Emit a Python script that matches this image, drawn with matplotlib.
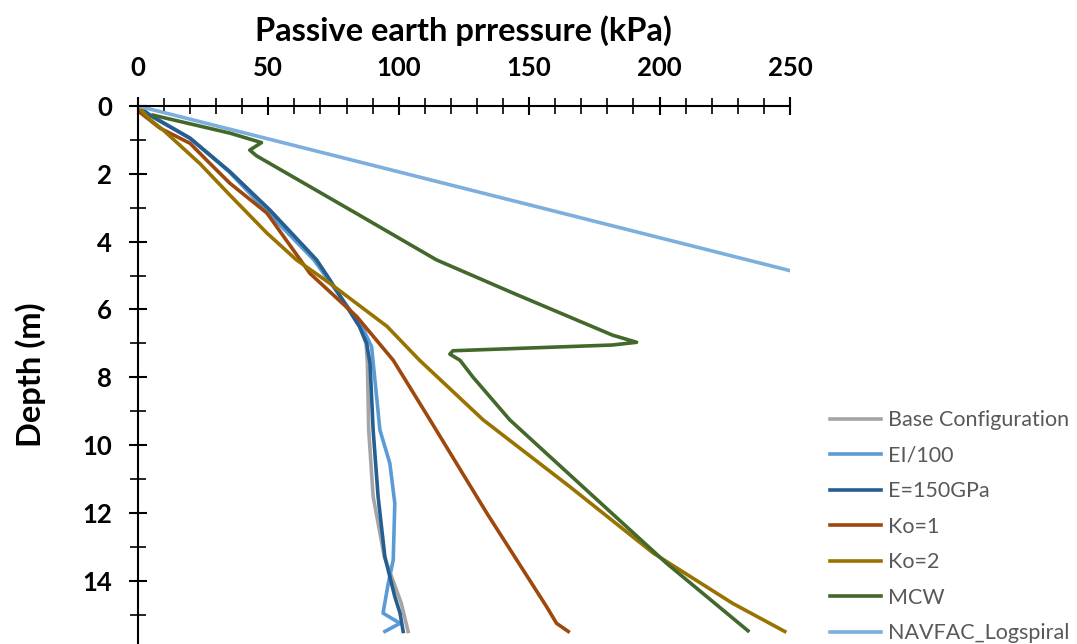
import matplotlib.pyplot as plt
from matplotlib.ticker import MultipleLocator

plt.rcParams['font.family'] = ['Lato', 'DejaVu Sans']

# Profondeurs (m) et pressions passives (kPa)
base_d = [0, 0.27, 0.95, 1.94, 3.07, 4.54, 5.13, 6.51, 7.0, 7.6, 9.56, 11.52, 13.3, 14.67, 15.5]
base_p = [0, 4.6, 20, 35.3, 50.6, 68.5, 73.6, 85, 87.5, 88, 88.5, 90.2, 94.5, 101, 103.6]

ei_d = [0, 0.27, 0.95, 1.94, 3.2, 4.54, 5.13, 6.51, 7.1, 9.56, 10.54, 11.72, 13.39, 14.08, 14.96, 15.26, 15.5]
ei_p = [0, 4.6, 20, 35, 50.6, 67.5, 73, 86, 89.6, 92.8, 96.6, 98.5, 97.9, 96, 94, 100.5, 94.7]

e150_d = [0, 0.27, 0.95, 1.94, 3.07, 4.54, 5.13, 6.51, 7.0, 7.59, 9.56, 11.52, 13.3, 14.47, 14.96, 15.5]
e150_p = [0, 4.6, 20, 35.3, 50.6, 68.5, 73.6, 85, 87.7, 89, 90.2, 92.1, 94.7, 98.5, 100.5, 101.7]

ko1_d = [0, 0.2, 0.65, 1.1, 1.6, 2.28, 3.16, 4.94, 6.21, 7.5, 9.26, 12.0, 14.77, 15.26, 15.5]
ko1_p = [0, 1, 8.4, 20, 26.4, 35.3, 49.5, 66, 83.9, 97.9, 112, 133.7, 156.7, 160.5, 165]

ko2_d = [0, 0.4, 0.7, 1.7, 2.63, 3.75, 4.54, 5.23, 6.5, 7.5, 9.26, 11.23, 13.19, 14.67, 15.5]
ko2_p = [0, 4.6, 9.6, 23.8, 35.3, 49.5, 60.8, 73.6, 95.5, 108, 132.4, 165.6, 197.6, 228, 248]

mcw_d = [0.27, 0.8, 1.08, 1.3, 1.47, 3.17, 4.54, 5.52, 6.76, 6.97, 7.05, 7.22, 7.32, 7.5, 8.0, 9.26, 11.33, 13.49, 15.48]
mcw_p = [5.8, 35.3, 47.4, 42.9, 45.5, 83.8, 114.5, 143.9, 182, 191.2, 182, 120.8, 119.6, 123.5, 128.5, 142.6, 172, 202.7, 233.9]

nav_d = [0, 15.5]
nav_p = [0, 798]

series = [
    ("Base Configuration", base_p, base_d, "#A5A5A5"),
    ("EI/100", ei_p, ei_d, "#5B9BD5"),
    ("E=150GPa", e150_p, e150_d, "#255E91"),
    ("Ko=1", ko1_p, ko1_d, "#9E480E"),
    ("Ko=2", ko2_p, ko2_d, "#997300"),
    ("MCW", mcw_p, mcw_d, "#43682B"),
    ("NAVFAC_Logspiral", nav_p, nav_d, "#7CAFDD"),
]

fig = plt.figure(figsize=(10.77, 6.44), dpi=100)
ax = fig.add_axes([0.128, 0.0, 0.6055, 0.8354])

for label, p, d, c in series:
    ax.plot(p, d, color=c, lw=2.6, label=label, solid_joinstyle='round')

ax.set_xlim(0, 250)
ax.set_ylim(15.87, 0)
ax.xaxis.set_major_locator(MultipleLocator(50))
ax.xaxis.set_minor_locator(MultipleLocator(10))
ax.yaxis.set_major_locator(MultipleLocator(2))
ax.yaxis.set_minor_locator(MultipleLocator(1))
ax.xaxis.tick_top()
ax.xaxis.set_label_position('top')

for s in ['right', 'bottom']:
    ax.spines[s].set_visible(False)
for s in ['top', 'left']:
    ax.spines[s].set_linewidth(1.5)

ax.tick_params(which='major', direction='inout', length=13.5, width=1.5, labelsize=18.5, pad=12)
ax.tick_params(which='minor', direction='inout', length=11, width=1.2)
for t in ax.get_xticklabels() + ax.get_yticklabels():
    t.set_fontweight('bold')

ax.set_xlabel("Passive earth prressure (kPa)", fontsize=23.5, fontweight='bold', labelpad=11)
ax.set_ylabel("Depth (m)", fontsize=23.5, fontweight='bold', labelpad=26)

leg = fig.legend(loc='upper left', bbox_to_anchor=(0.7625, 0.376), frameon=False,
                 borderaxespad=0, fontsize=15.5, handlelength=2.4, labelspacing=0.72,
                 handletextpad=0.3)
for t in leg.get_texts():
    t.set_color('#595959')

plt.savefig("out.png", dpi=100)
